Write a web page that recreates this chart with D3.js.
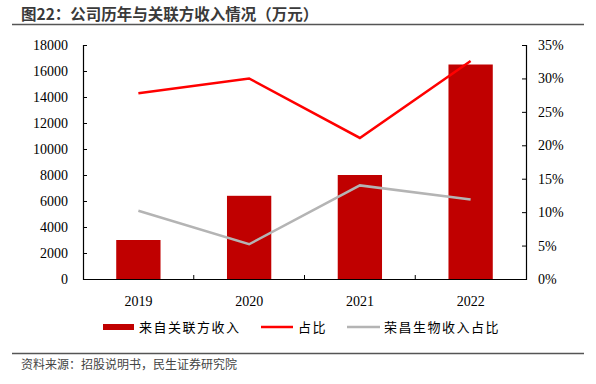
<!DOCTYPE html>
<html>
<head>
<meta charset="utf-8">
<script src="https://cdn.jsdelivr.net/npm/d3@7"></script>
<style>
  body { margin: 0; background: #fff; }
</style>
</head>
<body>
<svg id="chart" width="596" height="384"></svg>
<script>
const years = ["2019", "2020", "2021", "2022"]
const relatedIncome = [3000, 6400, 8000, 16500]
const shareRatio = [0.278, 0.300, 0.211, 0.326]
const rongchangRatio = [0.102, 0.052, 0.140, 0.119]
const leftTicks = [0, 2000, 4000, 6000, 8000, 10000, 12000, 14000, 16000, 18000]
const rightTicks = [0, 0.05, 0.10, 0.15, 0.20, 0.25, 0.30, 0.35]
const legendNames = ["来自关联方收入", "占比", "荣昌生物收入占比"]

let svg = d3.select("#chart")
let plotLeft = 83, plotRight = 526, plotTop = 45, plotBottom = 279
const serif = "'Liberation Serif', 'Times New Roman', serif"
const cjk = "'Noto Sans CJK SC', sans-serif"

// 标题
svg.append("text")
    .attr("x", 21).attr("y", 20)
    .text("图22：公司历年与关联方收入情况（万元）")
    .style("font-family", cjk)
    .style("font-size", "15.5px")
    .style("font-weight", "bold")
    .style("fill", "#3a3a3a")
svg.append("line")
    .attr("x1", 12).attr("x2", 584).attr("y1", 24.5).attr("y2", 24.5)
    .style("stroke", "#555").style("stroke-width", 1.6)

let x = d3.scaleBand().domain(years).range([plotLeft, plotRight]).padding(0)
let yL = d3.scaleLinear().domain([0, 18000]).range([plotBottom, plotTop])
let yR = d3.scaleLinear().domain([0, 0.35]).range([plotBottom, plotTop])

// 柱子
svg.selectAll(".bar")
    .data(relatedIncome)
    .enter()
    .append("rect")
    .attr("class", "bar")
    .attr("x", (d, i) => x(years[i]) + x.bandwidth() * 0.3)
    .attr("width", x.bandwidth() * 0.4)
    .attr("y", d => yL(d))
    .attr("height", d => plotBottom - yL(d))
    .style("fill", "#c00000")

// 折线
let line = d3.line()
    .x((d, i) => x(years[i]) + x.bandwidth() / 2)
    .y(d => yR(d))
svg.append("path").datum(shareRatio).attr("d", line)
    .style("fill", "none").style("stroke", "#ff0000").style("stroke-width", 2.5)
svg.append("path").datum(rongchangRatio).attr("d", line)
    .style("fill", "none").style("stroke", "#b4b4b4").style("stroke-width", 2.5)

// 坐标轴
let axisL = svg.append("g").attr("transform", `translate(${plotLeft},0)`)
    .call(d3.axisRight(yL).tickValues(leftTicks).tickSize(4).tickFormat(d3.format("d")))
axisL.selectAll("text").attr("x", -15).attr("text-anchor", "end")

let axisR = svg.append("g").attr("transform", `translate(${plotRight},0)`)
    .call(d3.axisLeft(yR).tickValues(rightTicks).tickSize(4).tickFormat(d3.format(".0%")))
axisR.selectAll("text").attr("x", 12).attr("text-anchor", "start")

let axisB = svg.append("g").attr("transform", `translate(0,${plotBottom})`)
    .call(d3.axisBottom(x).tickSize(0).tickPadding(17))
axisB.selectAll(".tick line").remove()
// 类别分隔刻度
svg.selectAll(".sepTick")
    .data(years.slice(1))
    .enter()
    .append("line")
    .attr("x1", d => x(d)).attr("x2", d => x(d))
    .attr("y1", plotBottom).attr("y2", plotBottom - 4)
    .style("stroke", "#000")

svg.selectAll(".domain").style("stroke", "#000").style("stroke-width", 1.2)
svg.selectAll(".tick line").style("stroke", "#000")
svg.selectAll(".tick text")
    .style("font-family", serif)
    .style("font-size", "14px")
    .style("fill", "#000")

// 图例
let lg = svg.append("g")
lg.append("rect").attr("x", 103).attr("y", 324).attr("width", 31).attr("height", 6)
    .style("fill", "#c00000")
lg.append("line").attr("x1", 261).attr("x2", 293).attr("y1", 327).attr("y2", 327)
    .style("stroke", "#ff0000").style("stroke-width", 2.5)
lg.append("line").attr("x1", 347).attr("x2", 380).attr("y1", 327).attr("y2", 327)
    .style("stroke", "#b4b4b4").style("stroke-width", 2.5)
let legendX = [139, 298, 384]
legendNames.forEach((n, i) => {
    lg.append("text").attr("x", legendX[i]).attr("y", 332)
        .text(n)
        .style("font-family", cjk)
        .style("font-size", "13px")
        .style("letter-spacing", "1.5px")
        .style("fill", "#000")
})

// 资料来源
svg.append("line")
    .attr("x1", 12).attr("x2", 584).attr("y1", 353.5).attr("y2", 353.5)
    .style("stroke", "#555").style("stroke-width", 1.6)
svg.append("text")
    .attr("x", 21).attr("y", 369)
    .text("资料来源：招股说明书，民生证券研究院")
    .style("font-family", cjk)
    .style("font-size", "12px")
    .style("fill", "#444")
</script>
</body>
</html>
